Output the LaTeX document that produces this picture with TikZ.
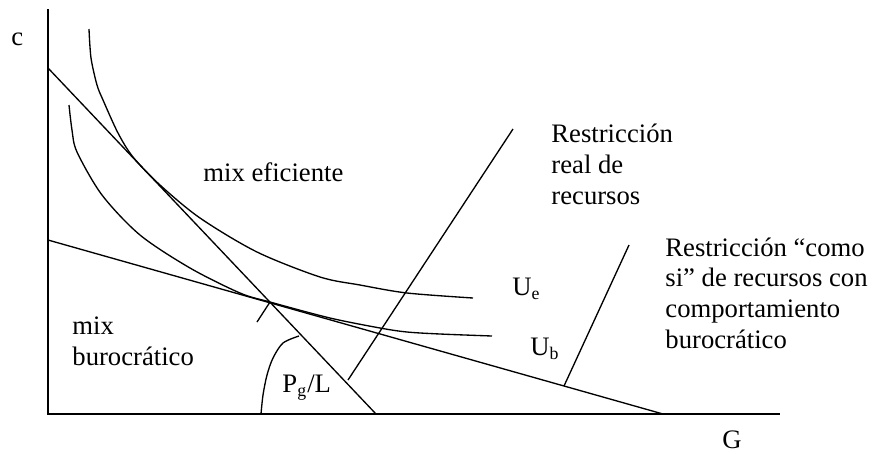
\documentclass[tikz,border=0pt]{standalone}
\usepackage{fontspec}
\setmainfont{Liberation Serif}
\usetikzlibrary{positioning}
\tikzset{
  axis/.style={line width=0.8pt},
  curve/.style={line width=0.6pt},
  lbl/.style={inner sep=0pt, anchor=base west, align=left, font=\fontsize{12}{13.8}\selectfont},
}

\begin{document}
\begin{tikzpicture}[x=0.45pt, y=-0.45pt]
  \useasboundingbox (0,0) rectangle (872,453);
  % axes
  \coordinate (O) at (48,414);
  \coordinate (ytop) at (48,9);
  \coordinate (xend) at (780,414);
  \draw[axis] (ytop) -- (O) -- (xend);
  \node[lbl] (clbl) at (11,45) {c};
  \node[lbl] (Glbl) at (722,448) {G};
  % budget lines
  \coordinate (effA) at (48,68);
  \coordinate (effB) at (376,414);
  \coordinate (burA) at (48,240);
  \coordinate (burB) at (663,414);
  \coordinate (T) at (270,302);
  \draw[curve] (effA) -- (effB);
  \draw[curve] (burA) -- (burB);
  \coordinate (tick) at (257,322);
  \draw[curve] (tick) -- (T);
  % indifference curves
  \draw[curve] plot[smooth] coordinates {(89,29) (91,58) (97,85) (103,100) (118,133) (133,157)
    (160,185) (200,218) (257,252) (320,277) (360,285) (407,293) (473,298)};
  \draw[curve] plot[smooth] coordinates {(69,105) (72,130) (77,152) (102,195) (140,235) (190,268)
    (240,293) (270,302) (330,318) (380,328) (407,332) (440,334) (492,336)};
  % price ratio arc
  \draw[curve] plot[smooth] coordinates {(261,414) (263,395) (267,375) (273,358) (283,343) (299,336)};
  % restrictions
  \coordinate (realA) at (348,380);
  \coordinate (realB) at (513,129);
  \draw[curve] (realA) -- (realB);
  \coordinate (asifA) at (564,386);
  \coordinate (asifB) at (629,245);
  \draw[curve] (asifA) -- (asifB);
  % labels (multi-line nodes sit on their last baseline)
  \node[lbl] (effmix) at (203,181) {mix eficiente};
  \node[lbl] (burmix) at (72,365) {mix\\burocrático};
  \node[lbl] (Pg) at (282,392) {P\textsubscript{g}/L};
  \node[lbl] (Ue) at (512,295) {U\textsubscript{e}};
  \node[lbl] (Ub) at (530,355) {U\textsubscript{b}};
  \node[lbl] (real) at (551,204) {Restricción\\real de\\recursos};
  \node[lbl] (asif) at (665,348) {Restricción “como\\si” de recursos con\\comportamiento\\burocrático};
\end{tikzpicture}
\end{document}
